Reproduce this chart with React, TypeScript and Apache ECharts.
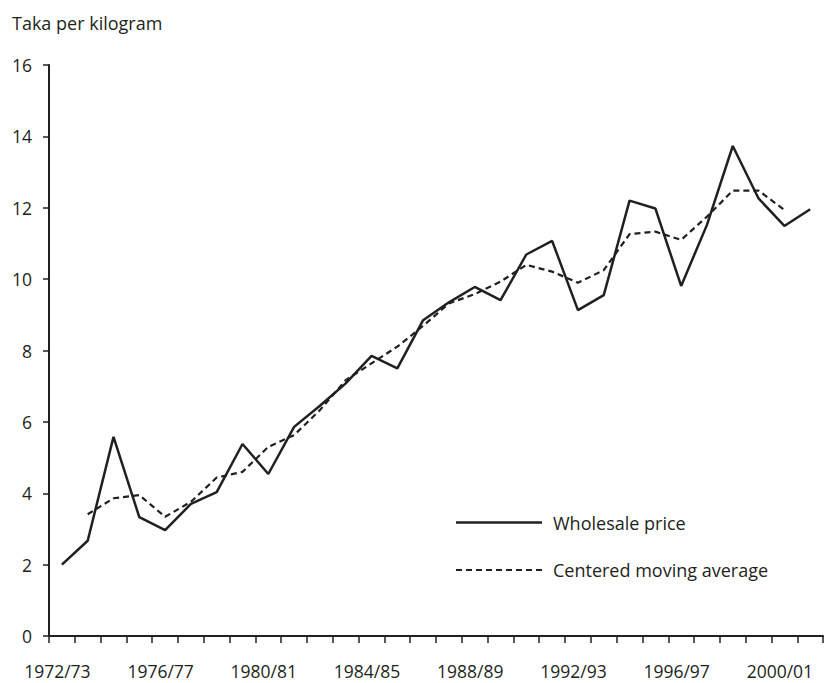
import React, { useEffect, useRef } from "react";
import * as echarts from "echarts";

const categories = [
  "1972/73", "1973/74", "1974/75", "1975/76", "1976/77", "1977/78", "1978/79", "1979/80",
  "1980/81", "1981/82", "1982/83", "1983/84", "1984/85", "1985/86", "1986/87", "1987/88",
  "1988/89", "1989/90", "1990/91", "1991/92", "1992/93", "1993/94", "1994/95", "1995/96",
  "1996/97", "1997/98", "1998/99", "1999/00", "2000/01", "2001/02",
];

const wholesalePrice = [
  2.0, 2.67, 5.58, 3.33, 2.97, 3.7, 4.03, 5.38, 4.54, 5.86,
  6.45, 7.08, 7.85, 7.5, 8.85, 9.35, 9.78, 9.41, 10.69, 11.07,
  9.13, 9.55, 12.2, 11.98, 9.81, 11.52, 13.73, 12.26, 11.49, 11.96,
];

const movingAverage = [
  null, 3.41, 3.86, 3.95, 3.34, 3.76, 4.44, 4.6, 5.3, 5.63,
  6.33, 7.17, 7.64, 8.11, 8.69, 9.32, 9.58, 9.93, 10.4, 10.21,
  9.9, 10.25, 11.26, 11.33, 11.1, 11.75, 12.48, 12.48, 11.94, null,
];

const yTicks = [0, 2, 4, 6, 8, 10, 12, 14, 16];
const seriesNames = ["Wholesale price", "Centered moving average"];

const FONT = "'Open Sans', Lato, sans-serif";
const INK = "#231f20";

export default function App() {
  const ref = useRef<HTMLDivElement>(null);

  useEffect(() => {
    if (!ref.current) return;
    const chart = echarts.init(ref.current, null, { renderer: "svg" });
    chart.setOption({
      animation: false,
      backgroundColor: "#ffffff",
      textStyle: { fontFamily: FONT, color: INK },
      title: {
        text: "Taka per kilogram",
        left: 12,
        top: 14,
        padding: 0,
        textStyle: { fontFamily: FONT, fontSize: 18, fontWeight: "normal", color: INK },
      },
      graphic: [
        {
          type: "line",
          shape: { x1: 456, y1: 522.5, x2: 542, y2: 522.5 },
          style: { stroke: INK, lineWidth: 2.5 },
        },
        {
          type: "text",
          x: 553,
          y: 522.5,
          style: {
            text: seriesNames[0],
            fontFamily: FONT,
            fontSize: 18,
            fill: INK,
            verticalAlign: "middle",
          },
        },
        {
          type: "line",
          shape: { x1: 456, y1: 570, x2: 542, y2: 570 },
          style: { stroke: INK, lineWidth: 2.2, lineDash: [6, 4] },
        },
        {
          type: "text",
          x: 553,
          y: 570,
          style: {
            text: seriesNames[1],
            fontFamily: FONT,
            fontSize: 18,
            fill: INK,
            verticalAlign: "middle",
          },
        },
      ],
      grid: { left: 49, right: -4, top: 65, bottom: 47, containLabel: false },
      xAxis: {
        type: "category",
        data: categories,
        boundaryGap: true,
        axisLine: { lineStyle: { color: INK, width: 2 } },
        axisTick: { show: true, interval: 0, length: 7, lineStyle: { color: INK, width: 1.5 } },
        axisLabel: {
          interval: 3,
          margin: 26,
          fontFamily: FONT,
          fontSize: 17.5,
          lineHeight: 18,
          color: INK,
          padding: [0, 9, 0, 0],
        },
        splitLine: { show: false },
      },
      yAxis: {
        type: "value",
        min: yTicks[0],
        max: yTicks[yTicks.length - 1],
        interval: 2,
        axisLine: { show: true, lineStyle: { color: INK, width: 2 } },
        axisTick: { show: true, length: 6, lineStyle: { color: INK, width: 1.5 } },
        axisLabel: { margin: 17, fontFamily: FONT, fontSize: 17.5, color: INK },
        splitLine: { show: false },
      },
      series: [
        {
          name: seriesNames[0],
          type: "line",
          data: wholesalePrice,
          symbol: "none",
          showSymbol: false,
          lineStyle: { color: INK, width: 2.5, type: "solid" },
          itemStyle: { color: INK },
        },
        {
          name: seriesNames[1],
          type: "line",
          data: movingAverage,
          symbol: "none",
          showSymbol: false,
          connectNulls: false,
          lineStyle: { color: INK, width: 2.2, type: [6, 4] },
          itemStyle: { color: INK },
        },
      ],
    });
    return () => chart.dispose();
  }, []);

  return (
    <div
      ref={ref}
      style={{ position: "fixed", left: 0, top: 0, width: 825, height: 683, background: "#fff" }}
    />
  );
}
